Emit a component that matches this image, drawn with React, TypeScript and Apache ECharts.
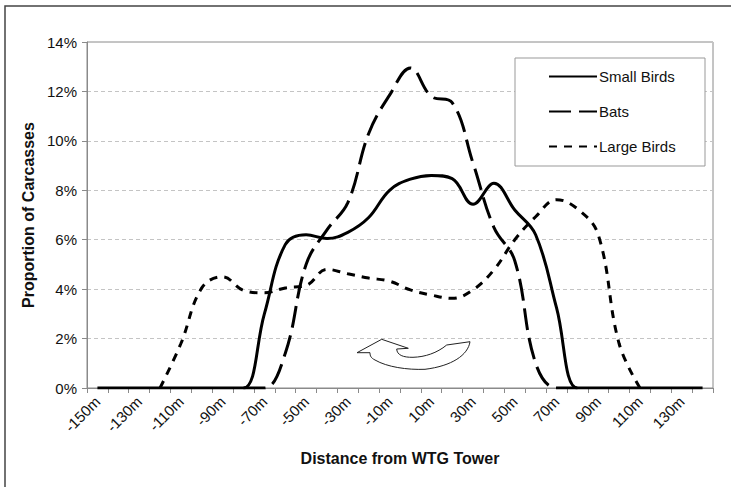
import React, { useEffect, useRef } from "react";
import * as echarts from "echarts";

const categories = [
  "-150m", "-140m", "-130m", "-120m", "-110m", "-100m", "-90m", "-80m", "-70m", "-60m",
  "-50m", "-40m", "-30m", "-20m", "-10m", "0m", "10m", "20m", "30m", "40m",
  "50m", "60m", "70m", "80m", "90m", "100m", "110m", "120m", "130m", "140m",
];

const smallBirds = [
  0, 0, 0, 0, 0, 0, 0, 0, 3.0, 5.8,
  6.2, 6.05, 6.3, 6.9, 8.0, 8.45, 8.6, 8.47, 7.43, 8.28,
  7.2, 6.2, 3.25, 0, 0, 0, 0, 0, 0, 0,
];

const bats = [
  null, null, null, null, null, null, null, 0, 0, 1.4,
  5.0, 6.4, 7.5, 10.3, 11.85, 12.95, 11.8, 11.55, 9.1, 6.5,
  5.15, 1.0, 0, 0, null, null, null, null, null, null,
];

const largeBirds = [
  null, null, null, 0, 1.8, 4.05, 4.5, 3.95, 3.85, 4.05,
  4.15, 4.8, 4.62, 4.45, 4.32, 3.97, 3.76, 3.63, 3.97, 4.78,
  6.0, 6.93, 7.62, 7.25, 6.2, 1.8, 0, null, null, null,
];

const yTicks = { min: 0, max: 14, interval: 2 };

const FONT = "'Liberation Sans', Arial, Helvetica, sans-serif";

const ARROW_D =
  "M0,13.7 L24.7,0.3 L51.3,9.3 L39.7,10 C40,16 46,18.5 56,18.3 C68,18 80,14 89.7,6 L113,2.7 C111,16 95,27 68,30.3 C50,31 30,28 18,21 C14,19 13,17 13,13.7 Z";

let registered = false;
function ensureShape() {
  if (registered) return;
  echarts.graphic.registerShape(
    "rotArrow",
    echarts.graphic.extendPath(ARROW_D, {}) as any
  );
  registered = true;
}

export default function App() {
  const ref = useRef<HTMLDivElement>(null);

  useEffect(() => {
    document.body.style.margin = "0";
    ensureShape();
    const chart = echarts.init(ref.current!, null, { renderer: "svg" });
    const lineBase = { type: "line", symbol: "none", showSymbol: false, smooth: 0.4, connectNulls: false };
    chart.setOption({
      animation: false,
      backgroundColor: "#fff",
      textStyle: { fontFamily: FONT },
      grid: {
        left: 87,
        right: 18,
        top: 42,
        bottom: 99,
        show: true,
        borderColor: "#8a8a8a",
        borderWidth: 1,
        backgroundColor: "transparent",
        outerBoundsMode: "none",
      },
      legend: {
        orient: "vertical",
        left: 548,
        top: 69,
        padding: 0,
        itemWidth: 48,
        itemHeight: 14,
        itemGap: 20,
        itemStyle: { color: "rgba(0,0,0,0)", borderWidth: 0, opacity: 0 },
        textStyle: { fontSize: 15, color: "#111", fontFamily: FONT, padding: [0, 0, 0, -3] },
        data: ["Small Birds", "Bats", "Large Birds"],
      },
      xAxis: {
        type: "category",
        data: categories,
        boundaryGap: true,
        name: "Distance from WTG Tower",
        nameLocation: "middle",
        nameGap: 62,
        nameTextStyle: { fontSize: 16, fontWeight: "bold", color: "#111", fontFamily: FONT },
        axisLine: { show: true, lineStyle: { color: "#8a8a8a", width: 1 } },
        axisTick: { show: true, interval: 0, length: 5, inside: false, lineStyle: { color: "#8a8a8a" } },
        axisLabel: {
          interval: 1,
          rotate: 45,
          margin: 11,
          fontSize: 15,
          color: "#111",
          fontFamily: FONT,
        },
        splitLine: { show: false },
      },
      yAxis: {
        type: "value",
        min: yTicks.min,
        max: yTicks.max,
        interval: yTicks.interval,
        name: "Proportion of Carcasses",
        nameLocation: "middle",
        nameGap: 49,
        nameTextStyle: { fontSize: 16, fontWeight: "bold", color: "#111", fontFamily: FONT },
        axisLine: { show: true, lineStyle: { color: "#8a8a8a", width: 1 } },
        axisTick: { show: true, length: 5, inside: false, lineStyle: { color: "#8a8a8a" } },
        axisLabel: {
          formatter: "{value}%",
          margin: 10,
          fontSize: 15,
          color: "#111",
          fontFamily: FONT,
        },
        splitLine: { show: true, lineStyle: { color: "#c4c4c4", type: [4, 3], width: 1 } },
      },
      series: [
        {
          ...lineBase,
          name: "Small Birds",
          data: smallBirds,
          z: 3,
          lineStyle: { color: "#000", width: 3, type: "solid" },
          itemStyle: { color: "#000" },
        },
        {
          ...lineBase,
          name: "Bats",
          data: bats,
          z: 2,
          lineStyle: { color: "#000", width: 3, type: [22, 8] },
          itemStyle: { color: "#000" },
        },
        {
          ...lineBase,
          name: "Large Birds",
          data: largeBirds,
          z: 2,
          lineStyle: { color: "#000", width: 3, type: [8, 7] },
          itemStyle: { color: "#000" },
        },
      ],
      graphic: [
        {
          type: "rect",
          z: 1,
          silent: true,
          shape: { x: 5, y: 6, width: 760, height: 520 },
          style: { fill: "none", stroke: "#444", lineWidth: 1.5 },
        },
        {
          type: "rect",
          z: 3,
          silent: true,
          shape: { x: 515, y: 58, width: 190, height: 108 },
          style: { fill: "#fff", stroke: "#999", lineWidth: 1 },
        },
        {
          type: "rotArrow",
          z: 3,
          silent: true,
          x: 357,
          y: 339,
          style: { fill: "#fff", stroke: "#222", lineWidth: 1 },
        },
      ],
    });
    return () => chart.dispose();
  }, []);

  return (
    <div
      ref={ref}
      style={{ position: "fixed", left: 0, top: 0, width: 731, height: 487 }}
    />
  );
}
